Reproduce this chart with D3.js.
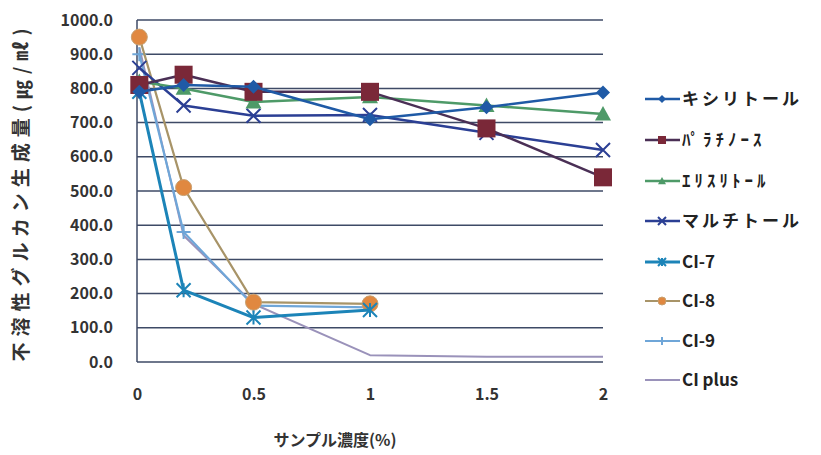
<!DOCTYPE html>
<html><head><meta charset="utf-8">
<script src="https://cdn.jsdelivr.net/npm/d3@7"></script>
<style>body{margin:0;background:#fff}svg{display:block}</style>
</head><body><svg id="c" width="821" height="455"></svg>
<script>
const xValues = [0.01, 0.2, 0.5, 1, 1.5, 2];
const seriesNames = ["キシリトール", "ﾊﾟﾗﾁﾉｰｽ", "ｴﾘｽﾘﾄｰﾙ", "マルチトール", "CI-7", "CI-8", "CI-9", "CI plus"];
const xylitol     = [790, 810, 805, 710, 745, 788];
const palatinose  = [810, 840, 790, 790, 683, 540];
const erythritol  = [820, 800, 760, 775, 750, 725];
const maltitol    = [860, 750, 720, 722, 670, 620];
const ci7         = [790, 210, 130, 152];
const ci8         = [950, 510, 175, 170];
const ci9         = [900, 380, 165, 160];
const ciPlus      = [920, 370, 170, 20, 15, 15];
const yTicks = [0,100,200,300,400,500,600,700,800,900,1000];
const xTicks = [0, 0.5, 1, 1.5, 2];
const xTickLabels = ["0", "0.5", "1", "1.5", "2"];

const seriesValues = [xylitol, palatinose, erythritol, maltitol, ci7, ci8, ci9, ciPlus];
const styles = [
  {line:"#1F5AA6", mark:"#1F5AA6", sym:"diamond", w:2.5},
  {line:"#4A2F55", mark:"#7A2838", sym:"square", w:2.5},
  {line:"#4E9A68", mark:"#4E9A68", sym:"triangle", w:2.5},
  {line:"#2B3F94", mark:"#2B3F94", sym:"x", w:2.5},
  {line:"#1C84B8", mark:"#1C84B8", sym:"star", w:3},
  {line:"#A89468", mark:"#E08840", sym:"circle", w:2.2},
  {line:"#6FA6D8", mark:"#6FA6D8", sym:"plus", w:2.2},
  {line:"#9A92BA", mark:"#9A92BA", sym:"none", w:2}
];

const svg = d3.select("#c");
const font = "'Noto Sans CJK JP','Noto Sans',sans-serif";
const x = d3.scaleLinear().domain([0,2]).range([137,603]);
const y = d3.scaleLinear().domain([0,1000]).range([362,20]);

// gridlines
svg.append("g").selectAll("line").data(yTicks).join("line")
  .attr("x1", x(0)).attr("x2", x(2)).attr("y1", d=>y(d)).attr("y2", d=>y(d))
  .attr("stroke", "#3E4A66").attr("stroke-width", 1.5);
// left axis line
svg.append("line").attr("x1", x(0)).attr("x2", x(0)).attr("y1", y(0)).attr("y2", y(1000))
  .attr("stroke", "#3E4A66").attr("stroke-width", 1.5);

// y tick labels
const yAxis = d3.axisLeft(y).tickValues(yTicks).tickFormat(d3.format(".1f")).tickSize(0).tickPadding(24);
const ga = svg.append("g").attr("transform", `translate(${x(0)},0)`).call(yAxis);
ga.select(".domain").remove();
ga.selectAll("text").attr("font-family", font).attr("font-size", 16).attr("font-weight", "bold").attr("fill", "#333");

// x tick labels
const xAxis = d3.axisBottom(x).tickValues(xTicks).tickFormat((d,i)=>xTickLabels[i]).tickSize(0).tickPadding(27);
const gx = svg.append("g").attr("transform", `translate(0,${y(0)})`).call(xAxis);
gx.select(".domain").remove();
gx.selectAll("text").attr("font-family", font).attr("font-size", 16).attr("font-weight", "bold").attr("fill", "#333");

// axis titles
svg.append("text").attr("x", 335).attr("y", 446).attr("text-anchor", "middle")
  .attr("font-family", font).attr("font-size", 16).attr("font-weight", "bold").attr("fill", "#333")
  .text("サンプル濃度(%)");
svg.append("text").attr("transform", "translate(28,192) rotate(-90)").attr("text-anchor", "middle")
  .attr("font-family", font).attr("font-size", 19).attr("font-weight", "bold").attr("fill", "#333")
  .attr("letter-spacing", 6)
  .text("不溶性グルカン生成量(㎍/㎖)");

function drawMarker(g, sym, color, cx, cy, s) {
  if (sym === "diamond") {
    g.append("path").attr("d", `M${cx},${cy-s}L${cx+s},${cy}L${cx},${cy+s}L${cx-s},${cy}Z`).attr("fill", color);
  } else if (sym === "square") {
    g.append("rect").attr("x", cx-s).attr("y", cy-s).attr("width", 2*s).attr("height", 2*s).attr("fill", color);
  } else if (sym === "triangle") {
    g.append("path").attr("d", `M${cx},${cy-s}L${cx+s},${cy+s*0.8}L${cx-s},${cy+s*0.8}Z`).attr("fill", color);
  } else if (sym === "x") {
    g.append("path").attr("d", `M${cx-s},${cy-s}L${cx+s},${cy+s}M${cx-s},${cy+s}L${cx+s},${cy-s}`).attr("stroke", color).attr("stroke-width", 2);
  } else if (sym === "star") {
    g.append("path").attr("d", `M${cx-s},${cy-s}L${cx+s},${cy+s}M${cx-s},${cy+s}L${cx+s},${cy-s}M${cx},${cy-s}L${cx},${cy+s}`).attr("stroke", color).attr("stroke-width", 2);
  } else if (sym === "circle") {
    g.append("circle").attr("cx", cx).attr("cy", cy).attr("r", s).attr("fill", color).attr("stroke", "#C8A070").attr("stroke-width", 1);
  } else if (sym === "plus") {
    g.append("path").attr("d", `M${cx-s},${cy}L${cx+s},${cy}M${cx},${cy-s}L${cx},${cy+s}`).attr("stroke", color).attr("stroke-width", 2);
  }
}

const markSize = [7, 9, 8, 7, 7, 8, 7, 0];
// draw series (reverse order so first series on top)
const plot = svg.append("g");
for (let i = seriesValues.length - 1; i >= 0; i--) {
  const vals = seriesValues[i];
  const pts = vals.map((v, j) => [xValues[j], v]);
  const st = styles[i];
  const g = plot.append("g");
  g.append("path").datum(pts)
    .attr("d", d3.line().x(d=>x(d[0])).y(d=>y(d[1])))
    .attr("fill", "none").attr("stroke", st.line).attr("stroke-width", st.w).attr("stroke-linejoin", "round");
  pts.forEach(p => drawMarker(g, st.sym, st.mark, x(p[0]), y(p[1]), markSize[i]));
}

// legend
const legY = [99, 140, 181, 221, 262, 301, 341, 380];
const legSpacing = [3, 4, 4, 3, 0, 0, 0, 0];
const lg = svg.append("g");
seriesNames.forEach((name, i) => {
  const st = styles[i];
  const yy = legY[i];
  lg.append("line").attr("x1", 645).attr("x2", 680).attr("y1", yy).attr("y2", yy)
    .attr("stroke", st.line).attr("stroke-width", st.w);
  drawMarker(lg, st.sym, st.mark, 662, yy, 4);
  lg.append("text").attr("x", 682).attr("y", yy + 6)
    .attr("font-family", font).attr("font-size", 17).attr("font-weight", "bold").attr("fill", "#222")
    .attr("letter-spacing", legSpacing[i])
    .text(name);
});
</script></body></html>
